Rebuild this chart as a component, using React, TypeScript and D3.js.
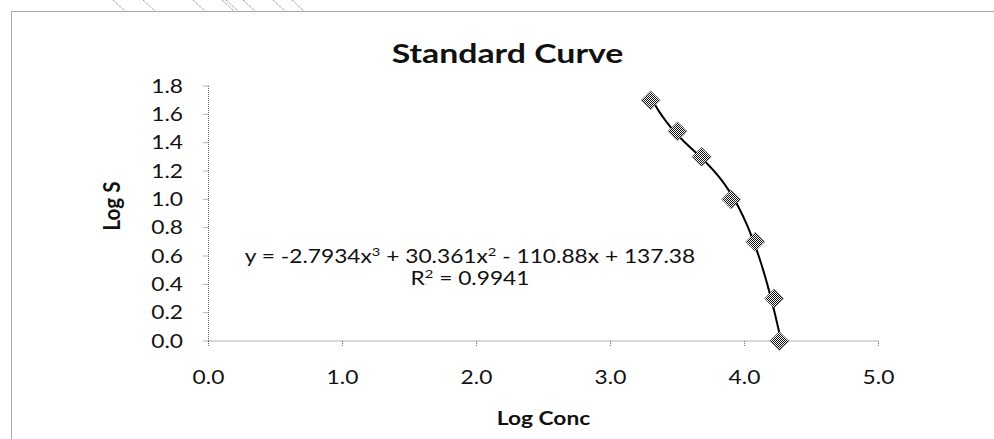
import React from "react";
import * as d3 from "d3";

const logConc = [3.30, 3.50, 3.68, 3.90, 4.08, 4.22, 4.26];
const logS = [1.70, 1.48, 1.30, 1.00, 0.70, 0.30, 0.00];
const trendCoefs = [-2.7934, 30.361, -110.88, 137.38]; // cubic, high to low
const xTicks = [0, 1, 2, 3, 4, 5];
const yTicks = [0, 0.2, 0.4, 0.6, 0.8, 1.0, 1.2, 1.4, 1.6, 1.8];
const title = "Standard Curve";
const xTitle = "Log Conc";
const yTitle = "Log S";
const hatchStarts = [113, 143, 193, 222, 226, 243, 273, 292];

const W = 994;
const H = 439;
const FONT = "Lato, 'Open Sans', sans-serif";
const SX = 1.23; // horizontal stretch of the text in the reference
const FS = 18.5;

function SText(props: {
  x: number;
  y: number;
  anchor?: "start" | "middle" | "end";
  size?: number;
  bold?: boolean;
  dy?: string;
  children: React.ReactNode;
}) {
  return (
    <g transform={`translate(${props.x},${props.y}) scale(${SX},1)`}>
      <text
        textAnchor={props.anchor || "start"}
        fontSize={props.size || FS}
        fontWeight={props.bold ? "bold" : "normal"}
        dy={props.dy || "0"}
        fill="#111"
      >
        {props.children}
      </text>
    </g>
  );
}

export default function App() {
  const x = d3.scaleLinear().domain([0, 5]).range([208.5, 878.5]);
  const y = d3.scaleLinear().domain([0, 1.8]).range([341, 86]);

  const poly = (v: number) => trendCoefs.reduce((acc, c) => acc * v + c, 0);

  const xs = d3.range(logConc[0], logConc[logConc.length - 1] + 1e-9, 0.01);
  const trendPts: [number, number][] = xs.map((v) => [v, poly(v)]);
  const line = d3
    .line<[number, number]>()
    .x((d) => x(d[0]))
    .y((d) => y(d[1]));

  const diamond = (cx: number, cy: number, r: number) =>
    `M${cx},${cy - r}L${cx + r},${cy}L${cx},${cy + r}L${cx - r},${cy}Z`;

  const axisStyle = { stroke: "#666", strokeWidth: 1, strokeDasharray: "1,1" };

  return (
    <svg
      width={W}
      height={H}
      style={{ position: "absolute", left: 0, top: 0, background: "#fff" }}
      fontFamily={FONT}
    >
      <defs>
        <pattern id="checker" width="2" height="2" patternUnits="userSpaceOnUse">
          <rect width="2" height="2" fill="#fff" />
          <rect width="1" height="1" fill="#111" />
          <rect x="1" y="1" width="1" height="1" fill="#111" />
        </pattern>
      </defs>
      <rect width={W} height={H} fill="#fff" />
      {hatchStarts.map((h, i) => (
        <line
          key={i}
          x1={h}
          y1={0}
          x2={h + 12}
          y2={11}
          stroke="#777"
          strokeWidth={1}
          strokeDasharray="1,1"
        />
      ))}
      <rect
        x={11.5}
        y={11.5}
        width={1000}
        height={500}
        fill="none"
        stroke="#555"
        strokeWidth={1}
        strokeDasharray="1,1"
      />
      <SText x={507.5} y={63} anchor="middle" size={27.5} bold>
        {title}
      </SText>

      {/* Y axis */}
      <line x1={x(0)} x2={x(0)} y1={y(0)} y2={y(1.8)} style={axisStyle} />
      {yTicks.map((t) => (
        <g key={"y" + t}>
          <line x1={x(0) - 5} x2={x(0)} y1={y(t)} y2={y(t)} style={axisStyle} />
          <SText x={183} y={y(t)} dy="0.36em" anchor="end">
            {t.toFixed(1)}
          </SText>
        </g>
      ))}

      {/* X axis */}
      <line x1={x(0)} x2={x(5)} y1={y(0)} y2={y(0)} style={axisStyle} />
      {xTicks.map((t) => (
        <g key={"x" + t}>
          <line x1={x(t)} x2={x(t)} y1={y(0)} y2={y(0) + 5} style={axisStyle} />
          <SText x={x(t)} y={377} dy="0.36em" anchor="middle">
            {t.toFixed(1)}
          </SText>
        </g>
      ))}

      <SText x={543.5} y={418} dy="0.36em" anchor="middle" bold>
        {xTitle}
      </SText>
      <text
        transform={`translate(112,206) rotate(-90) scale(1.12,${SX})`}
        dy="0.36em"
        textAnchor="middle"
        fontSize={FS}
        fontWeight="bold"
        fill="#111"
      >
        {yTitle}
      </text>

      {/* Trendline */}
      <path d={line(trendPts) || ""} fill="none" stroke="#000" strokeWidth={2} />

      {/* Markers */}
      {logConc.map((v, i) => (
        <path
          key={"m" + i}
          d={diamond(x(v), y(logS[i]), 9.5)}
          fill="url(#checker)"
          stroke="#444"
          strokeWidth={0.5}
        />
      ))}

      {/* Equation */}
      <SText x={470} y={263} anchor="middle">
        y = -2.7934x<tspan dy={-7} fontSize={12}>3</tspan>
        <tspan dy={7}> + 30.361x</tspan>
        <tspan dy={-7} fontSize={12}>2</tspan>
        <tspan dy={7}> - 110.88x + 137.38</tspan>
      </SText>
      <SText x={470} y={285} anchor="middle">
        R<tspan dy={-7} fontSize={12}>2</tspan>
        <tspan dy={7}> = 0.9941</tspan>
      </SText>
    </svg>
  );
}
